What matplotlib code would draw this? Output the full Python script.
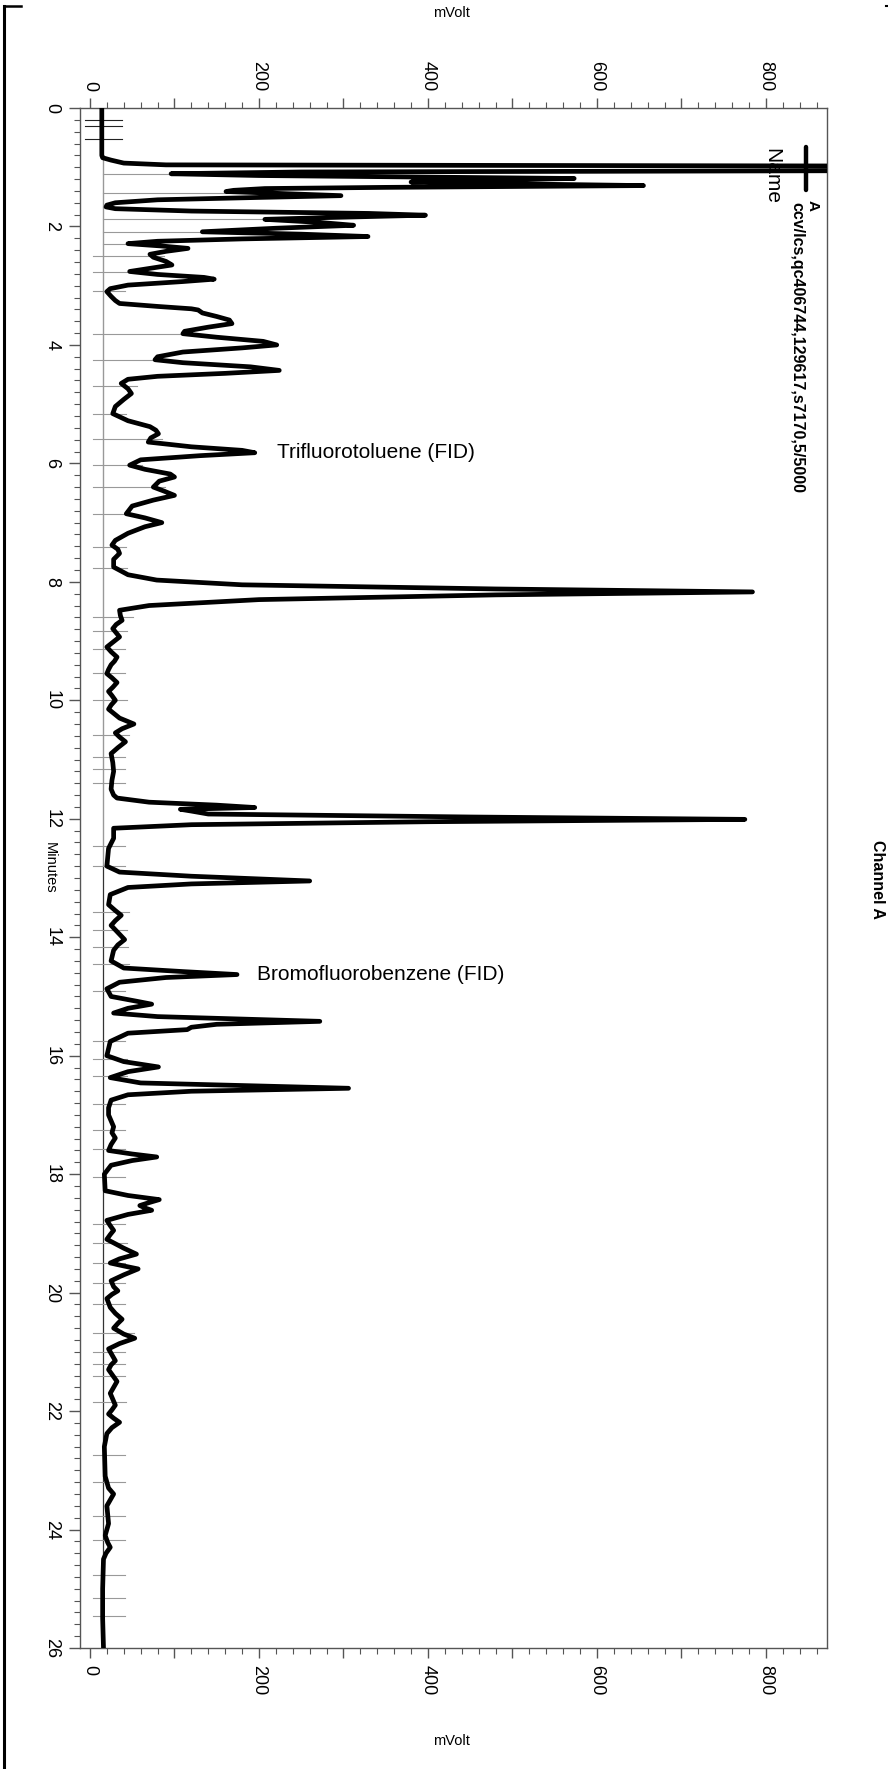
import numpy as np
import matplotlib
matplotlib.use("Agg")
import matplotlib.pyplot as plt
from matplotlib.ticker import MultipleLocator, FixedLocator, FuncFormatter
from matplotlib.lines import Line2D

plt.rcParams['font.family'] = ['Liberation Sans', 'DejaVu Sans']

# ---- data (time in minutes, signal in mVolt) ----
time_min = [0.00, 0.80, 0.84, 0.88, 0.93, 0.96, 1.00, 1.03, 1.08, 1.11,
            1.14, 1.19, 1.22, 1.25, 1.28, 1.31, 1.34, 1.36, 1.39, 1.41,
            1.45, 1.48, 1.51, 1.55, 1.60, 1.64, 1.67, 1.70, 1.74, 1.78,
            1.81, 1.85, 1.88, 1.93, 1.98, 2.03, 2.09, 2.13, 2.17, 2.21,
            2.25, 2.29, 2.33, 2.37, 2.42, 2.47, 2.52, 2.59, 2.65, 2.71,
            2.76, 2.81, 2.86, 2.89, 2.93, 2.99, 3.05, 3.10, 3.18, 3.25,
            3.30, 3.35, 3.39, 3.41, 3.46, 3.52, 3.58, 3.64, 3.70, 3.77,
            3.81, 3.87, 3.94, 4.00, 4.05, 4.12, 4.20, 4.25, 4.30, 4.37,
            4.43, 4.48, 4.53, 4.58, 4.65, 4.74, 4.82, 4.92, 5.04, 5.16,
            5.28, 5.38, 5.44, 5.50, 5.57, 5.64, 5.72, 5.78, 5.82, 5.87,
            5.94, 6.03, 6.10, 6.18, 6.23, 6.30, 6.40, 6.47, 6.54, 6.62,
            6.72, 6.85, 6.92, 7.00, 7.07, 7.18, 7.30, 7.38, 7.45, 7.52,
            7.62, 7.75, 7.88, 7.97, 8.05, 8.12, 8.17, 8.22, 8.30, 8.40,
            8.48, 8.57, 8.65, 8.72, 8.79, 8.86, 8.93, 9.02, 9.10, 9.18,
            9.27, 9.34, 9.40, 9.48, 9.55, 9.62, 9.70, 9.78, 9.85, 9.92,
            10.00, 10.08, 10.15, 10.30, 10.40, 10.48, 10.55, 10.62, 10.70, 10.80,
            10.90, 11.05, 11.20, 11.35, 11.50, 11.60, 11.65, 11.72, 11.77, 11.81,
            11.84, 11.87, 11.92, 11.97, 12.01, 12.05, 12.10, 12.16, 12.33, 12.50,
            12.65, 12.80, 12.90, 12.97, 13.05, 13.10, 13.16, 13.28, 13.45, 13.55,
            13.63, 13.72, 13.80, 13.92, 14.04, 14.13, 14.22, 14.40, 14.52, 14.58,
            14.63, 14.68, 14.76, 14.87, 15.00, 15.08, 15.13, 15.20, 15.28, 15.34,
            15.42, 15.47, 15.52, 15.56, 15.62, 15.76, 16.00, 16.10, 16.19, 16.27,
            16.37, 16.46, 16.55, 16.60, 16.66, 16.75, 16.88, 17.00, 17.10, 17.20,
            17.30, 17.39, 17.50, 17.60, 17.66, 17.71, 17.77, 17.85, 18.00, 18.28,
            18.36, 18.43, 18.48, 18.53, 18.57, 18.61, 18.68, 18.78, 18.87, 18.95,
            19.02, 19.10, 19.25, 19.35, 19.43, 19.50, 19.55, 19.60, 19.70, 19.80,
            19.90, 19.97, 20.03, 20.10, 20.25, 20.35, 20.45, 20.52, 20.60, 20.70,
            20.77, 20.86, 20.95, 21.05, 21.15, 21.22, 21.30, 21.40, 21.50, 21.60,
            21.70, 21.80, 21.90, 21.98, 22.05, 22.12, 22.19, 22.28, 22.38, 22.60,
            23.10, 23.30, 23.40, 23.50, 23.60, 23.75, 23.90, 24.00, 24.10, 24.22,
            24.30, 24.40, 24.50, 25.00, 25.50, 26.00]
signal_mv = [14, 14, 15, 25, 40, 90, 1800, 1800, 250, 96,
             200, 573, 450, 380, 500, 655, 350, 207, 170, 161,
             240, 297, 200, 80, 30, 20, 19, 30, 120, 330,
             397, 280, 207, 270, 312, 220, 133, 250, 329, 180,
             80, 45, 85, 116, 90, 71, 75, 90, 97, 70,
             47, 80, 135, 147, 110, 45, 24, 20, 25, 30,
             35, 80, 120, 128, 133, 150, 165, 168, 140, 112,
             110, 150, 205, 221, 180, 110, 80, 77, 110, 190,
             224, 160, 80, 45, 37, 45, 49, 40, 30, 27,
             45, 71, 78, 81, 72, 69, 120, 180, 195, 130,
             60, 47, 65, 95, 100, 82, 75, 88, 100, 75,
             50, 43, 65, 85, 65, 45, 30, 26, 33, 35,
             28, 28, 45, 79, 180, 480, 784, 480, 200, 70,
             35, 36, 38, 31, 27, 31, 35, 27, 20, 25,
             32, 29, 25, 22, 20, 26, 32, 27, 22, 26,
             30, 25, 22, 35, 52, 38, 30, 35, 42, 33,
             25, 27, 28, 26, 25, 28, 32, 70, 150, 195,
             107, 120, 140, 450, 775, 400, 120, 28, 28, 22,
             21, 20, 35, 120, 260, 120, 45, 24, 22, 30,
             37, 30, 25, 33, 41, 33, 28, 25, 40, 110,
             174, 90, 35, 20, 25, 55, 73, 45, 28, 80,
             272, 150, 120, 115, 45, 24, 20, 40, 81, 45,
             24, 60, 306, 120, 45, 25, 22, 22, 25, 28,
             26, 30, 25, 22, 50, 79, 50, 25, 17, 18,
             45, 82, 70, 59, 65, 73, 45, 20, 24, 28,
             24, 20, 40, 55, 35, 24, 40, 57, 40, 25,
             28, 33, 26, 20, 24, 30, 38, 33, 28, 40,
             53, 35, 22, 26, 30, 25, 22, 27, 32, 28,
             24, 27, 30, 26, 22, 28, 35, 26, 20, 17,
             18, 22, 28, 24, 20, 21, 22, 20, 18, 21,
             24, 19, 16, 15, 15, 16]

# peak start/stop marker times (minutes)
marker_times = [1.12, 1.44, 1.67, 1.88, 2.09, 2.29, 2.50, 2.77, 3.09, 3.81,
                4.26, 4.70, 5.17, 5.58, 6.03, 6.40, 6.85, 7.41, 7.76, 8.60,
                8.83, 9.13, 9.54, 9.99, 10.58, 10.96, 11.16, 11.40, 12.46,
                12.79, 13.58, 13.87, 14.17, 14.46, 14.91, 15.75, 16.05,
                16.34, 16.81, 17.26, 17.58, 18.05, 18.84, 19.17, 19.50,
                19.84, 20.20, 20.68, 21.00, 21.20, 21.40, 21.85, 22.74,
                23.19, 23.77, 24.18, 24.77, 25.16, 25.46]
early_marker_times = [0.21, 0.30, 0.52]

minute_ticks = list(range(0, 27, 2))
mv_ticks = list(range(0, 801, 100))

# ---- figure ----
W, H = 888, 1769
fig = plt.figure(figsize=(W / 100, H / 100), dpi=100)

def fx(x):
    return x / W

def fy(y):
    return 1 - y / H

ax = fig.add_axes([fx(80), fy(1648), (827 - 80) / W, (1648 - 108) / H])
ax.set_xlim(-11.8, 872.2)
ax.set_ylim(26, 0)

spine_col = '#555555'
for s in ax.spines.values():
    s.set_color(spine_col)
    s.set_linewidth(1.0)

# minutes axis (left)
ax.yaxis.set_major_locator(FixedLocator(minute_ticks))
ax.yaxis.set_minor_locator(MultipleLocator(0.2))
ax.yaxis.set_ticks_position('left')
ax.tick_params(axis='y', which='major', direction='out', length=8, width=1,
               color=spine_col, pad=6, labelsize=13, labelrotation=270)
ax.tick_params(axis='y', which='minor', direction='out', length=4, width=0.8,
               color=spine_col)
for lbl in ax.get_yticklabels():
    lbl.set_va('center')

# mVolt axes (top & bottom)
ax.xaxis.set_major_locator(FixedLocator(mv_ticks))
ax.xaxis.set_minor_locator(MultipleLocator(20))
ax.xaxis.set_major_formatter(FuncFormatter(lambda v, p: f"{int(v)}" if int(v) % 200 == 0 else ""))
ax.xaxis.set_ticks_position('both')
ax.tick_params(axis='x', which='major', direction='out', length=7, width=1,
               color=spine_col, pad=5, labelsize=13, labelrotation=270,
               labeltop=True, labelbottom=True)
ax.tick_params(axis='x', which='minor', direction='out', length=4, width=0.8,
               color=spine_col)
for loc, tk in zip(mv_ticks, ax.xaxis.get_major_ticks()):
    if loc % 200 != 0:
        tk.tick1line.set_color('#aaaaaa')
        tk.tick2line.set_color('#aaaaaa')

# baseline reference lines
ax.plot([15.5, 15.5], [0.88, 12.8], color='#999999', lw=1.0, zorder=1)
ax.plot([15.5, 15.5], [12.8, 26], color='#333333', lw=0.9, zorder=1)

# marker lines
mk_vals = np.interp(marker_times, time_min, signal_mv)
for t, v in zip(marker_times, mk_vals):
    x1 = max(v, 28) + 14 if t > 2.4 else v
    ax.plot([3 if t > 2.4 else 15.5, x1], [t, t], color='#999999', lw=0.8, zorder=2)
for t in early_marker_times:
    ax.plot([-6, 38], [t, t], color='#222222', lw=0.8, zorder=2)

# trace
ax.plot(signal_mv, time_min, color='black', lw=3.4, solid_joinstyle='round',
        solid_capstyle='round', zorder=4)

# annotations
ax.text(fx(277), fy(453), 'Trifluorotoluene (FID)', transform=fig.transFigure,
        fontsize=15, ha='left', va='center', zorder=5)
ax.text(fx(257), fy(974), 'Bromofluorobenzene (FID)', transform=fig.transFigure,
        fontsize=15, ha='left', va='center', zorder=5)

# legend
ax.text(fx(772), fy(148), 'Name', transform=fig.transFigure, fontsize=15,
        rotation=270, ha='center', va='top', zorder=1, clip_on=False)
ax.add_line(Line2D([fx(806), fx(806)], [fy(147), fy(190)], transform=fig.transFigure,
                   color='black', lw=3.2, solid_capstyle='round', clip_on=False))
ax.text(fx(813), fy(200), 'A', transform=fig.transFigure, fontsize=11,
        fontweight='bold', rotation=270, ha='center', va='top', clip_on=False)
ax.text(fx(797), fy(202), 'ccv/lcs,qc406744,129617,s7170,5/5000',
        transform=fig.transFigure, fontsize=11.5, fontweight='bold',
        rotation=270, ha='center', va='top', clip_on=False)

# axis titles
fig.text(fx(451), fy(13), 'mVolt', fontsize=10.5, ha='center', va='center')
fig.text(fx(451), fy(1741), 'mVolt', fontsize=10.5, ha='center', va='center')
fig.text(fx(50), fy(868), 'Minutes', fontsize=10.5, rotation=270, ha='center', va='center')
fig.text(fx(877), fy(879), 'Channel A', fontsize=11.5, fontweight='bold',
         rotation=270, ha='center', va='center')

# page bracket and corner mark
fig.add_artist(Line2D([fx(4), fx(4)], [fy(6), fy(1769)], color='black', lw=2.2))
fig.add_artist(Line2D([fx(4), fx(21)], [fy(6), fy(6)], color='black', lw=1.8))
fig.add_artist(Line2D([fx(886), fx(887)], [fy(6), fy(6)], color='black', lw=1.5))

fig.savefig('out.png', dpi=100)
